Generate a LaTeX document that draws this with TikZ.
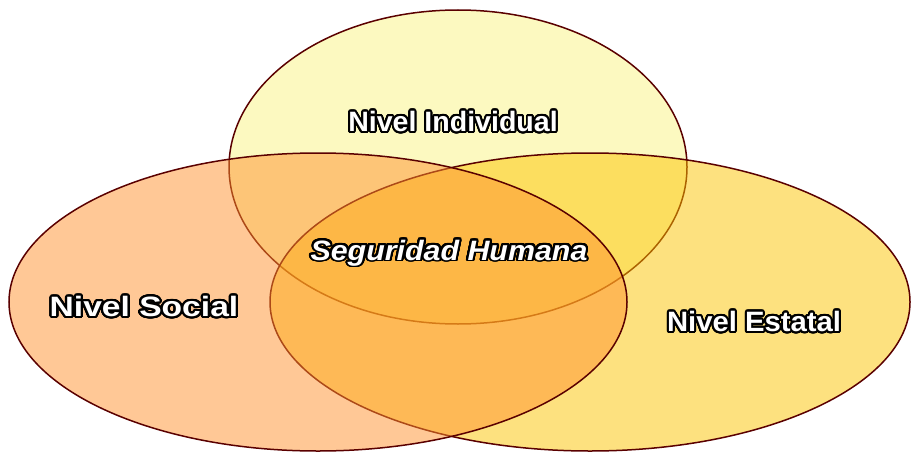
\documentclass[tikz,border=0pt]{standalone}
\usepackage{fontspec}
\setmainfont{Liberation Sans}
\usepackage{contour}
\contourlength{1.9pt}
\contournumber{32}
\definecolor{edgecol}{RGB}{90,0,0}
\definecolor{topfill}{RGB}{252,249,192}
\definecolor{leftfill}{RGB}{255,146,47}
\definecolor{rightfill}{RGB}{253,197,0}
\tikzset{
  venn/.style={draw=edgecol, line width=1.5pt},
  lbl/.style={anchor=base, inner sep=0pt, text=white, font=\fontsize{28}{30}\selectfont\bfseries}
}
\newcommand{\outl}[1]{\contour{black}{\textcolor{white}{#1}}}
\begin{document}
\begin{tikzpicture}[x=1pt,y=-1pt]
\useasboundingbox (0,0) rectangle (912,452);
\fill[white] (0,0) rectangle (912,452);
\draw[venn, fill=topfill] (458,167) ellipse [x radius=229, y radius=157];
\draw[venn, fill=rightfill, fill opacity=0.5] (590,302) ellipse [x radius=320, y radius=149];
\draw[venn, fill=leftfill, fill opacity=0.5] (318,302) ellipse [x radius=309, y radius=149];
\node[lbl] (ind) at (453,131.5) {\scalebox{1.02}[1]{\outl{Nivel Individual}}};
\node[lbl] (soc) at (144,316.5) {\scalebox{1.2}[1]{\outl{Nivel Social}}};
\node[lbl] (est) at (754,331.5) {\scalebox{1.045}[1]{\outl{Nivel Estatal}}};
\node[lbl] (seg) at (449,260) {\scalebox{1.085}[1]{\outl{\itshape Seguridad Humana}}};
\end{tikzpicture}
\end{document}
